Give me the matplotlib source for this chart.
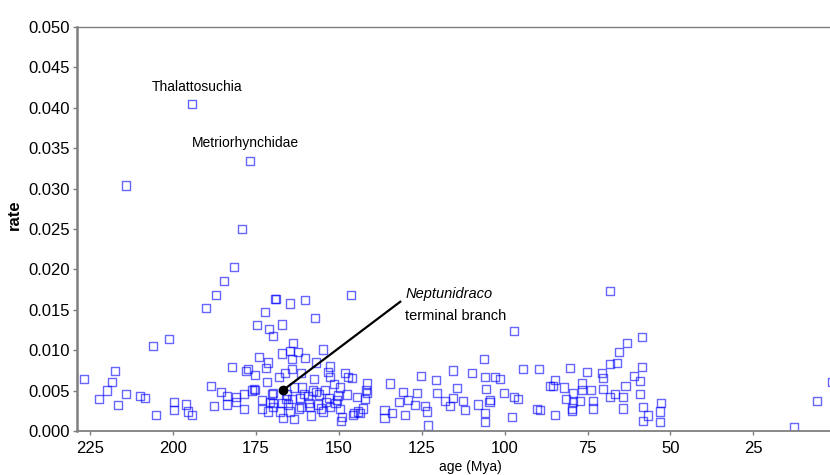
import matplotlib.pyplot as plt

plt.rcParams['font.family'] = ['Liberation Sans', 'DejaVu Sans']

# --- data (age in Mya, rate) ---
age = [194.3, 176.8, 214.2, 179.2, 181.6, 184.6, 187.0, 190.0, 169.2, 172.2,
       174.7, 171.0, 169.8, 201.2, 206.0, 174.1, 171.3, 182.2, 177.4, 178.0,
       171.9, 175.3, 226.8, 217.5, 218.4, 219.9, 222.3, 216.6, 214.2, 210.0,
       208.4, 205.1, 199.7, 199.7, 196.1, 195.5, 194.3, 188.5, 185.5, 183.7,
       187.6, 183.7, 181.0, 178.6, 178.6, 175.3, 176.2, 173.2, 173.2, 171.3,
       171.6, 170.1, 169.8,
       168.9, 164.7, 160.2, 146.3, 157.2, 167.1, 163.8, 164.7, 167.1, 162.3,
       164.1, 160.2, 154.8, 156.9, 152.6, 153.2, 152.6, 164.1, 161.4, 166.2,
       168.0, 157.5, 148.1, 147.2, 151.4, 149.6, 175.6, 169.8, 165.6, 163.5,
       161.1, 159.3, 156.9, 154.1, 156.0, 152.9, 150.5, 147.5, 144.5, 145.4,
       144.2, 149.0, 149.6, 154.8, 158.4, 161.4, 163.5, 166.8, 167.7, 170.7,
       167.1, 164.1, 158.7, 156.3, 152.6, 161.7, 169.8, 164.7, 149.3, 181.0,
       165.3, 162.0, 159.0, 155.5, 151.0, 166.0, 160.5, 157.8, 153.8, 150.2,
       97.1, 106.2, 115.5, 109.8, 105.9, 102.9, 101.4, 94.4, 89.6, 86.3,
       125.2, 120.7, 134.5, 114.3, 105.6, 100.2, 97.1, 95.9, 141.5, 141.5,
       146.0, 130.6, 126.4, 120.4, 115.5, 118.0, 112.5, 108.0, 104.4, 104.6,
       131.8, 129.1, 127.0, 124.0, 123.4, 116.4, 111.9, 105.9, 105.9, 97.7,
       90.2, 123.1, 136.3, 136.3, 133.9, 130.0, 142.7, 143.6, 145.7, 142.1,
       141.8,
       68.2, 58.5, 63.0, 65.5, 66.1, 68.2, 58.5, 80.2, 75.1, 70.6,
       70.3, 60.9, 59.1, 84.8, 85.4, 82.1, 76.6, 76.6, 73.9, 70.3,
       63.6, 66.7, 68.2, 64.3, 59.1, 79.3, 81.4, 79.3, 77.2, 73.3,
       73.3, 79.6, 79.6, 64.3, 58.2, 52.8, 53.1, 53.1, 58.2, 56.7,
       84.8, 89.3, 12.7, 5.7, 1.2]
rate = [0.0405, 0.0334, 0.0304, 0.0250, 0.0203, 0.0186, 0.0168, 0.0152, 0.0163, 0.0147,
        0.0131, 0.0126, 0.0118, 0.0114, 0.0105, 0.0092, 0.0085, 0.0079, 0.0077, 0.0074,
        0.0078, 0.0069, 0.0064, 0.0074, 0.0061, 0.0050, 0.0040, 0.0032, 0.0046, 0.0043,
        0.0041, 0.0020, 0.0036, 0.0026, 0.0033, 0.0024, 0.0020, 0.0056, 0.0048, 0.0043,
        0.0031, 0.0033, 0.0036, 0.0046, 0.0027, 0.0051, 0.0050, 0.0038, 0.0027, 0.0024,
        0.0061, 0.0045, 0.0035,
        0.0163, 0.0158, 0.0162, 0.0168, 0.0140, 0.0132, 0.0109, 0.0099, 0.0096, 0.0098,
        0.0089, 0.0090, 0.0101, 0.0085, 0.0080, 0.0073, 0.0067, 0.0077, 0.0072, 0.0072,
        0.0067, 0.0064, 0.0072, 0.0067, 0.0058, 0.0054, 0.0052, 0.0047, 0.0045, 0.0054,
        0.0054, 0.0043, 0.0048, 0.0051, 0.0045, 0.0041, 0.0038, 0.0045, 0.0042, 0.0022,
        0.0024, 0.0017, 0.0027, 0.0024, 0.0019, 0.0030, 0.0015, 0.0016, 0.0024, 0.0036,
        0.0035, 0.0040, 0.0030, 0.0033, 0.0030, 0.0041, 0.0030, 0.0024, 0.0012, 0.0042,
        0.0033, 0.0028, 0.0035, 0.0028, 0.0035, 0.0040, 0.0046, 0.0050, 0.0036, 0.0044,
        0.0124, 0.0089, 0.0075, 0.0072, 0.0067, 0.0067, 0.0064, 0.0077, 0.0077, 0.0056,
        0.0068, 0.0063, 0.0059, 0.0053, 0.0052, 0.0047, 0.0042, 0.0040, 0.0059, 0.0047,
        0.0066, 0.0048, 0.0047, 0.0047, 0.0041, 0.0037, 0.0037, 0.0033, 0.0038, 0.0036,
        0.0036, 0.0038, 0.0032, 0.0031, 0.0024, 0.0031, 0.0026, 0.0022, 0.0011, 0.0017,
        0.0027, 0.0007, 0.0026, 0.0016, 0.0022, 0.0020, 0.0028, 0.0022, 0.0020, 0.0040,
        0.0051,
        0.0173, 0.0116, 0.0109, 0.0098, 0.0084, 0.0083, 0.0079, 0.0078, 0.0073, 0.0072,
        0.0066, 0.0068, 0.0062, 0.0063, 0.0056, 0.0054, 0.0059, 0.0051, 0.0051, 0.0052,
        0.0056, 0.0046, 0.0042, 0.0042, 0.0046, 0.0047, 0.0040, 0.0036, 0.0037, 0.0037,
        0.0028, 0.0028, 0.0025, 0.0028, 0.0030, 0.0035, 0.0024, 0.0011, 0.0012, 0.0019,
        0.0020, 0.0026, 0.0005, 0.0037, 0.0061]

# highlighted branch
nept_age, nept_rate = 166.8, 0.00507

x_ticks = [225, 200, 175, 150, 125, 100, 75, 50, 25]
y_ticks = [0.000, 0.005, 0.010, 0.015, 0.020, 0.025, 0.030, 0.035, 0.040, 0.045, 0.050]

fig = plt.figure(figsize=(8.3, 4.75), dpi=100)
ax = fig.add_axes([0.0928, 0.0926, 0.947, 0.8505])

ax.scatter(age, rate, s=36, marker='s', facecolors='none',
           edgecolors=(0, 0, 1, 0.6), linewidths=1.0)

# Neptunidraco pointer
ax.plot([nept_age, 131.5], [nept_rate, 0.0160], color='black', lw=1.6)
ax.plot(nept_age, nept_rate, 'o', color='black', ms=6)
ax.text(130.0, 0.01696, 'Neptunidraco', fontsize=10.5, style='italic', va='center', ha='left')
ax.text(130.0, 0.01423, 'terminal branch', fontsize=10.5, va='center', ha='left')

ax.text(192.8, 0.04257, 'Thalattosuchia', fontsize=10, va='center', ha='center')
ax.text(178.3, 0.03564, 'Metriorhynchidae', fontsize=10, va='center', ha='center')

ax.set_xlim(229.0, -8.1)
ax.set_ylim(0, 0.05)
ax.set_xticks(x_ticks)
ax.set_yticks(y_ticks)
ax.set_yticklabels([f'{v:.3f}' for v in y_ticks])

for side in ['left', 'bottom', 'top']:
    ax.spines[side].set_color('#7f7f7f')
ax.spines['left'].set_linewidth(1.8)
ax.spines['bottom'].set_linewidth(1.3)
ax.spines['top'].set_linewidth(1.0)
ax.spines['right'].set_visible(False)

ax.tick_params(axis='both', colors='#7f7f7f', labelcolor='black',
               labelsize=12, length=3, width=1, pad=2)
ax.tick_params(axis='x', pad=4)

ax.set_xlabel('age (Mya)', fontsize=10, labelpad=3)
ax.set_ylabel('rate', fontsize=12, fontweight='bold')
ax.yaxis.set_label_coords(-0.07, 0.535)

fig.savefig('out.png', dpi=100)
